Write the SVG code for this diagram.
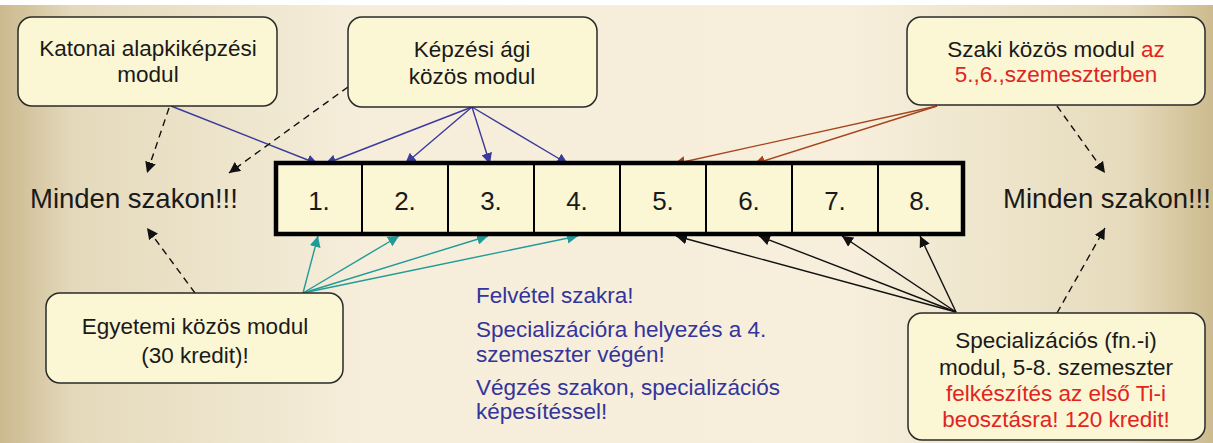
<svg xmlns="http://www.w3.org/2000/svg" width="1213" height="443" viewBox="0 0 1213 443">
<style>
.box{fill:#fbf6d4;stroke:#2a2a2a;stroke-width:1.5}
.t{font-family:"Liberation Sans",Arial,sans-serif;fill:#1a1a1a;font-size:22.5px;text-anchor:middle}
.red{fill:#e0251f}
.blue{font-family:"Liberation Sans",Arial,sans-serif;fill:#34349a;font-size:22.5px}
.big{font-family:"Liberation Sans",Arial,sans-serif;fill:#1a1a1a;font-size:27.5px}
.cell{fill:#fbf6d4;stroke:#000;stroke-width:2}
.num{font-family:"Liberation Sans",Arial,sans-serif;font-size:26px;fill:#1a1a1a;text-anchor:middle}
.cb{stroke:#3b3b9c;stroke-width:1.4;fill:none;marker-end:url(#mb)}
.cr{stroke:#a4441c;stroke-width:1.4;fill:none;marker-end:url(#mr)}
.ct{stroke:#1f9b98;stroke-width:1.4;fill:none;marker-end:url(#mt)}
.ck{stroke:#111;stroke-width:1.4;fill:none;marker-end:url(#mk)}
.cd{stroke:#111;stroke-width:1.4;fill:none;stroke-dasharray:7,5;marker-end:url(#mk)}
</style>
<defs>
<linearGradient id="bg" x1="0" y1="0" x2="1" y2="0">
<stop offset="0" stop-color="#cbb98e"/>
<stop offset="0.06" stop-color="#e4d9bb"/>
<stop offset="0.3" stop-color="#f6eedb"/>
<stop offset="0.7" stop-color="#f7efdc"/>
<stop offset="0.93" stop-color="#e6dbbc"/>
<stop offset="1" stop-color="#cdbb8f"/>
</linearGradient>
<marker id="mb" viewBox="0 0 10 10" refX="10" refY="5" markerWidth="11" markerHeight="11" markerUnits="userSpaceOnUse" orient="auto"><path d="M0,0 L10,5 L0,10 z" fill="#3b3b9c"/></marker>
<marker id="mr" viewBox="0 0 10 10" refX="10" refY="5" markerWidth="11" markerHeight="11" markerUnits="userSpaceOnUse" orient="auto"><path d="M0,0 L10,5 L0,10 z" fill="#a4441c"/></marker>
<marker id="mt" viewBox="0 0 10 10" refX="10" refY="5" markerWidth="11" markerHeight="11" markerUnits="userSpaceOnUse" orient="auto"><path d="M0,0 L10,5 L0,10 z" fill="#1f9b98"/></marker>
<marker id="mk" viewBox="0 0 10 10" refX="10" refY="5" markerWidth="11" markerHeight="11" markerUnits="userSpaceOnUse" orient="auto"><path d="M0,0 L10,5 L0,10 z" fill="#111"/></marker>
</defs>
<rect x="0" y="0" width="1213" height="443" fill="url(#bg)"/>
<rect x="0" y="0" width="1213" height="5" fill="#ffffff"/>

<g id="connectors">
<path class="cb" d="M171,106 L318,164"/>
<path class="cb" d="M472,107 L325,164"/>
<path class="cb" d="M472,107 L405,164"/>
<path class="cb" d="M472,107 L490,164"/>
<path class="cb" d="M472,107 L568,164"/>
<path class="cr" d="M937,106 L674,164"/>
<path class="cr" d="M937,106 L754,164"/>
<path class="ct" d="M303,293 L318,236"/>
<path class="ct" d="M303,293 L399,236"/>
<path class="ct" d="M303,293 L488,236"/>
<path class="ct" d="M303,293 L578,236"/>
<path class="ck" d="M956,312 L676,236"/>
<path class="ck" d="M956,312 L759,236"/>
<path class="ck" d="M956,312 L842,236"/>
<path class="ck" d="M956,312 L920,236"/>
<path class="cd" d="M169,108 L147,173"/>
<path class="cd" d="M348,87 L229,173"/>
<path class="cd" d="M1057,106 L1105,173"/>
<path class="cd" d="M195,293 L147,228"/>
<path class="cd" d="M1057,313 L1105,228"/>
</g>

<g id="semesters">
<rect class="cell" x="276" y="163" width="86" height="71"/>
<rect class="cell" x="362" y="163" width="86" height="71"/>
<rect class="cell" x="448" y="163" width="86" height="71"/>
<rect class="cell" x="534" y="163" width="86" height="71"/>
<rect class="cell" x="620" y="163" width="86" height="71"/>
<rect class="cell" x="706" y="163" width="86" height="71"/>
<rect class="cell" x="792" y="163" width="86" height="71"/>
<rect class="cell" x="878" y="163" width="85" height="71"/>
<rect x="276" y="163" width="687" height="71" fill="none" stroke="#000" stroke-width="4.5"/>
<text class="num" x="319" y="210">1.</text>
<text class="num" x="405" y="210">2.</text>
<text class="num" x="491" y="210">3.</text>
<text class="num" x="577" y="210">4.</text>
<text class="num" x="663" y="210">5.</text>
<text class="num" x="749" y="210">6.</text>
<text class="num" x="835" y="210">7.</text>
<text class="num" x="920" y="210">8.</text>
</g>

<g id="katonai">
<rect class="box" x="18" y="17" width="259" height="89" rx="14"/>
<text class="t" x="148" y="56">Katonai alapkiképzési</text>
<text class="t" x="148" y="82">modul</text>
</g>

<g id="kepzesi">
<rect class="box" x="348" y="17" width="249" height="90" rx="14"/>
<text class="t" x="472" y="57">Képzési ági</text>
<text class="t" x="472" y="84">közös modul</text>
</g>

<g id="szaki">
<rect class="box" x="907" y="17" width="298" height="88" rx="14"/>
<text class="t" x="1056" y="57">Szaki közös modul <tspan class="red">az</tspan></text>
<text class="t red" x="1056" y="82">5.,6.,szemeszterben</text>
</g>

<g id="egyetemi">
<rect class="box" x="46" y="293" width="297" height="90" rx="14"/>
<text class="t" x="195" y="334">Egyetemi közös modul</text>
<text class="t" x="195" y="363">(30 kredit)!</text>
</g>

<g id="specializacios">
<rect class="box" x="908" y="313" width="297" height="127" rx="14"/>
<text class="t" x="1056" y="348">Specializációs (fn.-i)</text>
<text class="t" x="1056" y="375">modul, 5-8. szemeszter</text>
<text class="t red" x="1056" y="401">felkészítés az első Ti-i</text>
<text class="t red" x="1056" y="427">beosztásra! 120 kredit!</text>
</g>

<g id="minden-left">
<text class="big" x="30" y="208">Minden szakon!!!</text>
</g>
<g id="minden-right">
<text class="big" x="1003" y="208">Minden szakon!!!</text>
</g>

<g id="notes">
<text class="blue" x="476" y="303">Felvétel szakra!</text>
<text class="blue" x="476" y="337">Specializációra helyezés a 4.</text>
<text class="blue" x="476" y="362">szemeszter végén!</text>
<text class="blue" x="476" y="395">Végzés szakon, specializációs</text>
<text class="blue" x="476" y="419">képesítéssel!</text>
</g>
</svg>
